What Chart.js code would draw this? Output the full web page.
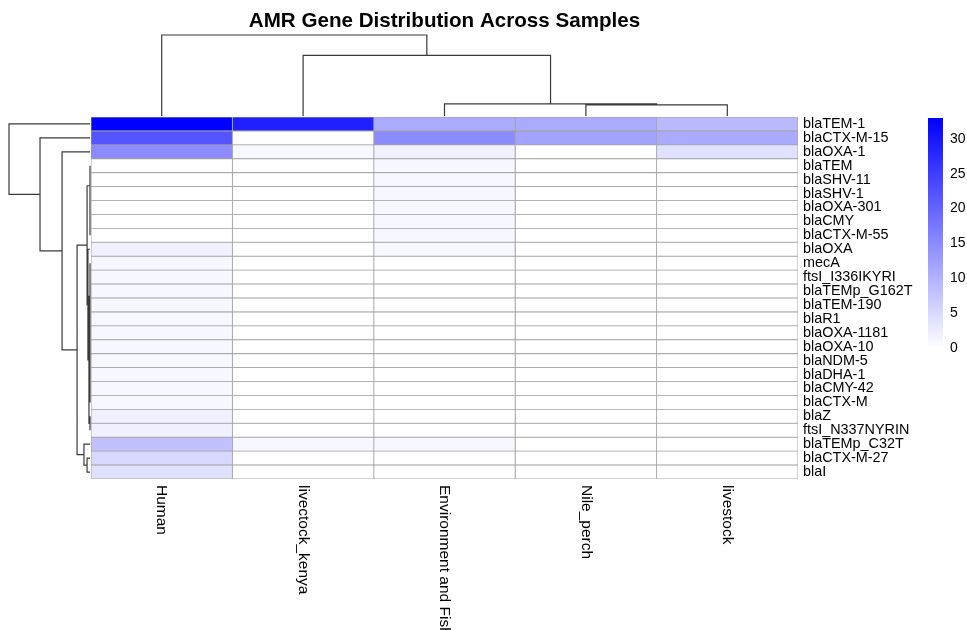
<!DOCTYPE html>
<html><head><meta charset="utf-8">
<script src="https://cdn.jsdelivr.net/npm/chart.js@4.4.1/dist/chart.umd.min.js"></script>
<style>html,body{margin:0;padding:0;background:#fff;}</style>
</head><body>
<canvas id="c" width="967" height="630"></canvas>
<script>
// ---------- data ----------
const samples = ['Human', 'livectock_kenya', 'Environment and Fish', 'Nile_perch', 'livestock'];
const genes = ['blaTEM-1','blaCTX-M-15','blaOXA-1','blaTEM','blaSHV-11','blaSHV-1','blaOXA-301','blaCMY','blaCTX-M-55','blaOXA','mecA','ftsI_I336IKYRI','blaTEMp_G162T','blaTEM-190','blaR1','blaOXA-1181','blaOXA-10','blaNDM-5','blaDHA-1','blaCMY-42','blaCTX-M','blaZ','ftsI_N337NYRIN','blaTEMp_C32T','blaCTX-M-27','blaI'];
const human          = [33,22,15,0,0,0,0,0,0,2,1,1,1,1,1,1,1,1,1,1,1,2,2,8,5,4];
const livectockKenya = [29,0,1,0,0,0,0,0,0,0,0,0,0,0,0,0,0,0,0,0,0,0,0,1,0,0];
const envFish        = [11,15,2,1,1,1,1,1,1,1,0,0,0,0,0,0,0,0,0,0,0,0,0,1,0,0];
const nilePerch      = [11,12,0,0,0,0,0,0,0,0,0,0,0,0,0,0,0,0,0,0,0,0,0,0,0,0];
const livestock      = [9,11,4,0,0,0,0,0,0,0,0,0,0,0,0,0,0,0,0,0,0,0,0,0,0,0];
const legendTicks = [0,5,10,15,20,25,30];
const valueMax = 33;
// column dendrogram (hclust style: negative = leaf, positive = earlier merge)
const colMerge  = [[-4,-5],[-3,1],[-2,2],[-1,3]];
const colHeight = [6.4,7.0,35.2,47];
// row dendrogram
const rowMerge = [[-5,-6],[-7,-8],[2,-9],[1,3],[-4,4],
                  [-12,-13],[-14,-15],[6,7],[-16,-17],[-18,-19],[-20,-21],[10,11],[9,12],[8,13],[-11,14],
                  [-22,-23],[15,16],[-10,17],[5,18],
                  [-25,-26],[-24,20],[19,21],[-3,22],[-2,23],[-1,24]];
const rowHeight = [0,0,0,0,0, 0,0,0,0,0,0,0,0,0,0, 0,0.6,1.2,1.7, 1.7,3.5,7.5,16.2,29,47];

const series = [human, livectockKenya, envFish, nilePerch, livestock];
const FONT = '"Liberation Sans", Arial, Helvetica, sans-serif';

function colorFor(v){
  const t = Math.max(0, Math.min(1, v / valueMax));
  const c = Math.round(255 * (1 - t));
  return `rgb(${c},${c},255)`;
}

// legend axis range so the colour bar covers 0..valueMax in the upper part of the heatmap height
const LEG_TOP = 1/362, LEG_BOT = 231/362;
const legRange = valueMax / (LEG_BOT - LEG_TOP);
const legMax = valueMax + LEG_TOP * legRange;
const legMin = legMax - legRange;

function drawTree(ctx, merge, height, leafPos, toPix, horizontal){
  const hMax = Math.max(...height);
  const pos = [], hh = [];
  const childInfo = (id) => id < 0 ? [leafPos(-id - 1), 0] : [pos[id - 1], hh[id - 1]];
  ctx.beginPath();
  merge.forEach((m, k) => {
    const [pa, ha] = childInfo(m[0]);
    const [pb, hb] = childInfo(m[1]);
    const h = height[k] / hMax;
    pos[k] = (pa + pb) / 2; hh[k] = h;
    const pts = [[pa, ha], [pa, h], [pb, h], [pb, hb]];
    pts.forEach(([p, q], i) => {
      const X = horizontal ? p : toPix(q);
      const Y = horizontal ? toPix(q) : p;
      if (i === 0) ctx.moveTo(X, Y); else ctx.lineTo(X, Y);
    });
  });
  ctx.stroke();
}

const heatPlugin = {
  id: 'heatExtras',
  afterDatasetsDraw(chart){
    const ctx = chart.ctx, xs = chart.scales.x, ys = chart.scales.y, yc = chart.scales.yc;
    const area = chart.chartArea;
    ctx.save();
    ctx.strokeStyle = '#3a3a3a';
    ctx.lineWidth = 1.2;
    const TREE = 81;
    // top (column) dendrogram
    drawTree(ctx, colMerge, colHeight, i => xs.getPixelForValue(i + 0.5), h => area.top - 1 - h * TREE, true);
    // left (row) dendrogram
    drawTree(ctx, rowMerge, rowHeight, i => ys.getPixelForValue(i), h => area.left - 1 - h * TREE, false);
    // colour legend bar
    const yTop = yc.getPixelForValue(valueMax), yBot = yc.getPixelForValue(0);
    const g = ctx.createLinearGradient(0, yBot, 0, yTop);
    g.addColorStop(0, colorFor(0)); g.addColorStop(1, colorFor(valueMax));
    ctx.fillStyle = g;
    ctx.fillRect(yc.left + 4, yTop, 15, yBot - yTop);
    // column labels (rotated, reading downwards)
    ctx.fillStyle = '#000';
    ctx.font = '15.5px ' + FONT;
    ctx.textAlign = 'left';
    ctx.textBaseline = 'middle';
    samples.forEach((s, i) => {
      ctx.save();
      ctx.translate(xs.getPixelForValue(i + 0.5), area.bottom + 6);
      ctx.rotate(Math.PI / 2);
      ctx.fillText(s, 0, 0);
      ctx.restore();
    });
    ctx.restore();
  }
};

new Chart(document.getElementById('c'), {
  type: 'bar',
  data: {
    labels: genes,
    datasets: samples.map((s, i) => ({
      label: s,
      data: genes.map(() => [i, i + 1]),
      backgroundColor: series[i].map(colorFor),
      borderColor: '#a2a2a2',
      borderWidth: 0.8,
      borderSkipped: false,
      grouped: false,
      barPercentage: 1,
      categoryPercentage: 1
    }))
  },
  options: {
    indexAxis: 'y',
    responsive: false,
    animation: false,
    devicePixelRatio: 1,
    layout: { padding: { left: 91, top: 0, right: 0, bottom: 0 } },
    plugins: {
      legend: { display: false },
      tooltip: { enabled: false },
      title: {
        display: true,
        fullSize: false,
        text: 'AMR Gene Distribution Across Samples',
        color: '#000',
        font: { family: FONT, size: 20.6, weight: 'bold' },
        padding: { top: 9, bottom: 83.28 }
      }
    },
    scales: {
      x: {
        type: 'linear', min: 0, max: samples.length, position: 'bottom',
        ticks: { display: false }, grid: { display: false }, border: { display: false },
        afterFit: s => { s.height = 151; }
      },
      y: {
        type: 'category', position: 'right', weight: 0,
        grid: { display: false, drawTicks: false }, border: { display: false },
        ticks: { autoSkip: false, padding: 5, color: '#000', font: { family: FONT, size: 14.4 } },
        afterFit: s => { s.width = 126; }
      },
      yc: {
        type: 'linear', axis: 'y', position: 'right', weight: 1, offset: false,
        min: legMin, max: legMax,
        grid: { display: false, drawTicks: false }, border: { display: false },
        ticks: { padding: 26, color: '#000', font: { family: FONT, size: 14 } },
        afterBuildTicks: s => { s.ticks = legendTicks.map(v => ({ value: v })); },
        afterFit: s => { s.width = 43; }
      }
    }
  },
  plugins: [heatPlugin]
});
</script>
</body></html>
